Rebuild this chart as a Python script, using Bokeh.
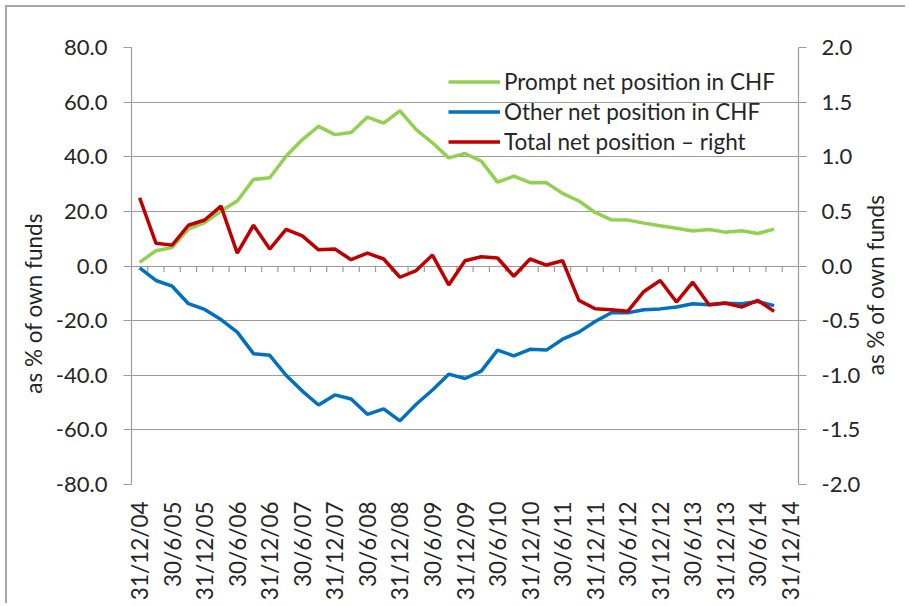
import math
from bokeh.plotting import figure
from bokeh.models import Range1d, LinearAxis, FixedTicker, NumeralTickFormatter
from bokeh.embed import file_html
from bokeh.resources import INLINE

# ---- data (quarterly, 31/12/04 .. 30/9/14) ----
prompt = [1.3, 5.6, 6.8, 13.5, 15.9, 20.1, 23.8, 31.7, 32.3, 40.2,
          46.3, 51.1, 48.1, 48.9, 54.5, 52.3, 56.8, 49.9, 45.1, 39.6,
          41.2, 38.4, 30.7, 32.9, 30.5, 30.5, 26.6, 23.8, 19.6, 16.9,
          16.8, 15.7, 14.7, 13.8, 12.8, 13.4, 12.4, 12.9, 11.9, 13.5]
other = [-0.7, -5.3, -7.4, -13.8, -15.9, -19.6, -24.2, -32.1, -32.7, -40.0,
         -45.8, -50.9, -47.2, -48.7, -54.3, -52.3, -56.7, -50.6, -45.4, -39.6,
         -41.2, -38.5, -30.8, -32.9, -30.5, -30.8, -26.8, -24.2, -20.3, -17.1,
         -17.1, -16.0, -15.7, -15.0, -13.8, -14.2, -13.6, -13.8, -13.0, -14.5]
total = [0.625, 0.209, 0.191, 0.373, 0.421, 0.548, 0.118, 0.373, 0.155, 0.336,
         0.276, 0.148, 0.155, 0.058, 0.118, 0.064, -0.103, -0.042, 0.1, -0.173,
         0.048, 0.085, 0.073, -0.094, 0.064, 0.009, 0.048, -0.315, -0.391, -0.4,
         -0.415, -0.233, -0.133, -0.33, -0.148, -0.355, -0.339, -0.376, -0.315, -0.415]
date_labels = ["31/12/04", "30/6/05", "31/12/05", "30/6/06", "31/12/06", "30/6/07",
               "31/12/07", "30/6/08", "31/12/08", "30/6/09", "31/12/09", "30/6/10",
               "31/12/10", "30/6/11", "31/12/11", "30/6/12", "31/12/12", "30/6/13",
               "31/12/13", "30/6/14", "31/12/14"]
left_ticks = [-80, -60, -40, -20, 0, 20, 40, 60, 80]
right_ticks = [-2.0, -1.5, -1.0, -0.5, 0.0, 0.5, 1.0, 1.5, 2.0]
left_title = "as %  of own funds"
right_title = "as % of own funds"

n_cat = 2 * (len(date_labels) - 1) + 1  # 41 quarterly categories
xs = list(range(len(prompt)))

FONT = "Lato"
TXT = "#262626"
GRID = "#9c9c9c"
FS = "22px"
FSX = "22.5px"
PAD = "\u00a0" * 12  # shifts the centred axis title down, as in the original

p = figure(width=905, height=603, output_backend="svg", toolbar_location=None,
           x_range=Range1d(-0.5, n_cat - 0.5), y_range=Range1d(-80, 80),
           min_border_left=131, min_border_right=105, min_border_top=47,
           min_border_bottom=117,
           styles={"background": "white",
                   "box-shadow": "inset 5px 5px 0 0 white, inset 7px 7px 0 0 #a8a8a8"})
p.border_fill_color = None
p.background_fill_color = "white"
p.extra_y_ranges = {"right": Range1d(-2, 2)}
p.outline_line_color = None
p.xgrid.grid_line_color = None
p.ygrid.grid_line_color = GRID
p.ygrid.grid_line_width = 1.2
p.ygrid.ticker = FixedTicker(ticks=left_ticks)

# x axis (labels only)
xa = p.xaxis[0]
xa.ticker = FixedTicker(ticks=list(range(0, n_cat, 2)))
xa.major_label_overrides = {2 * i: lab for i, lab in enumerate(date_labels)}
xa.major_label_orientation = math.pi / 2
xa.axis_line_color = None
xa.major_tick_line_color = None
xa.minor_tick_line_color = None
xa.major_tick_out = 0
xa.major_label_standoff = 17
xa.major_label_text_font = FONT
xa.major_label_text_font_size = FSX
xa.major_label_text_color = TXT

# left axis
ya = p.yaxis[0]
ya.ticker = FixedTicker(ticks=left_ticks)
ya.formatter = NumeralTickFormatter(format="0.0")
ya.axis_line_color = GRID
ya.axis_line_width = 1.2
ya.major_tick_line_color = GRID
ya.major_tick_out = 8
ya.major_tick_in = 0
ya.minor_tick_line_color = None
ya.major_label_standoff = 16
ya.major_label_text_font = FONT
ya.major_label_text_font_size = FS
ya.major_label_text_color = TXT
ya.axis_label = left_title + PAD
ya.axis_label_text_font = FONT
ya.axis_label_text_font_size = FSX
ya.axis_label_text_font_style = "normal"
ya.axis_label_text_color = TXT
ya.axis_label_standoff = 6

# right axis (ticks and labels)
ra = LinearAxis(y_range_name="right", ticker=FixedTicker(ticks=right_ticks),
                formatter=NumeralTickFormatter(format="0.0"))
ra.axis_line_color = GRID
ra.axis_line_width = 1.2
ra.major_tick_line_color = GRID
ra.major_tick_out = 8
ra.major_tick_in = 0
ra.minor_tick_line_color = None
ra.major_label_standoff = 15
ra.major_label_text_font = FONT
ra.major_label_text_font_size = FS
ra.major_label_text_color = TXT
p.add_layout(ra, "right")

# right axis title: one rotated label that starts at -1.0 and reads bottom-to-top
rt = LinearAxis(y_range_name="right", ticker=FixedTicker(ticks=[-1]))
rt.major_label_overrides = {-1: right_title}
rt.major_label_orientation = math.pi / 2
rt.axis_line_color = None
rt.major_tick_line_color = None
rt.minor_tick_line_color = None
rt.major_tick_out = 0
rt.major_tick_in = 0
rt.major_label_standoff = 12
rt.major_label_text_font = FONT
rt.major_label_text_font_size = FSX
rt.major_label_text_color = TXT
p.add_layout(rt, "right")

# category boundary tick marks on the zero line
bounds = [i + 0.5 for i in range(len(prompt))]
p.segment(x0=bounds, x1=bounds, y0=[0] * len(bounds), y1=[-2.2] * len(bounds),
          line_color=GRID, line_width=1.2)

# series
p.line(xs, prompt, line_color="#92D050", line_width=3.5,
       legend_label="Prompt net position in CHF")
p.line(xs, other, line_color="#0070C0", line_width=3.5,
       legend_label="Other net position in CHF")
p.line(xs, total, line_color="#C00000", line_width=3.5, y_range_name="right",
       legend_label="Total net position \u2013 right")

lg = p.legend[0]
lg.location = (317, 329)
lg.padding = 0
lg.margin = 0
lg.border_line_color = None
lg.background_fill_alpha = 0
lg.glyph_width = 52
lg.glyph_height = 25
lg.label_height = 25
lg.spacing = 3
lg.label_standoff = 4
lg.label_text_font = FONT
lg.label_text_font_size = "22.5px"
lg.label_text_color = TXT

open("out.html", "w").write(file_html(p, INLINE))
